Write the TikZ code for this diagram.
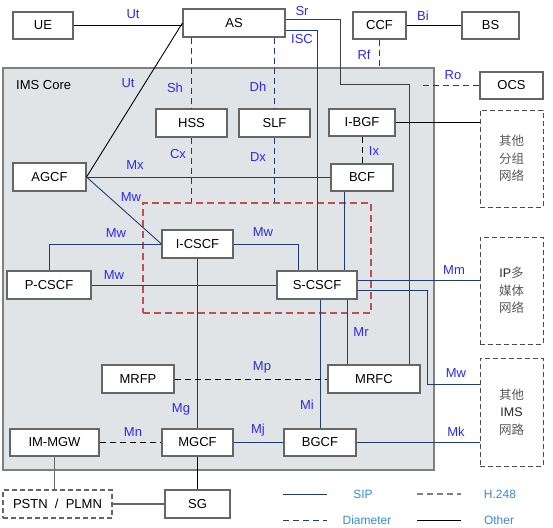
\documentclass[tikz,border=0pt]{standalone}
\usepackage{fontspec}
\setmainfont{Liberation Sans}
\newfontfamily\cjk{Noto Sans CJK SC}
\usepackage{tikz}
\definecolor{sipblue}{HTML}{1F3C7A}
\definecolor{ifblue}{HTML}{2B2BE6}
\definecolor{legblue}{HTML}{3A8AD2}
\definecolor{coregray}{HTML}{E0E4E7}
\definecolor{grpred}{HTML}{C0504D}

\begin{document}
\begin{tikzpicture}[
        x=1pt, y=-1pt,
        font=\fontsize{13}{15}\selectfont,
        box/.style={
            rectangle,
            draw=black!60,
            line width=1.1pt,
            fill=white,
            inner sep=0pt,
            minimum height=28pt
        },
        netbox/.style={
            rectangle,
            draw=black!70,
            dash pattern=on 5pt off 3pt,
            line width=1pt,
            fill=white,
            align=center,
            inner sep=0pt,
            minimum width=63pt,
            text=black!65,
            font=\cjk\fontsize{12.5}{17.5}\selectfont
        },
        sip/.style={draw=sipblue, line width=0.9pt},
        dia/.style={draw=sipblue, line width=1pt, dash pattern=on 6pt off 4pt},
        h248/.style={draw=black, line width=1pt, dash pattern=on 6pt off 4pt},
        other/.style={draw=black, line width=0.9pt},
        grayline/.style={draw=black!60, line width=1.3pt},
        iface/.style={text=ifblue, inner sep=0pt},
        legend/.style={text=legblue, inner sep=0pt, font=\fontsize{12}{14}\selectfont}
    ]
        \useasboundingbox (0,0) rectangle (553,527);
        \node[draw=black!50, line width=2pt, fill=coregray, minimum width=431pt, minimum height=402pt] (core) at (218.5,269) {};
        \node[anchor=west, inner sep=0pt] (corelbl) at (16,85) {IMS Core};
        \node[draw=grpred, line width=2pt, dash pattern=on 7pt off 4pt, minimum width=228pt, minimum height=110pt] (cscf) at (257,258) {};

        \node[box, minimum width=60pt, minimum height=27pt] (ue) at (43,25.5) {UE};
        \node[box, minimum width=102pt] (as) at (234,23) {AS};
        \node[box, minimum width=53pt, minimum height=27pt] (ccf) at (379.5,25.5) {CCF};
        \node[box, minimum width=57pt, minimum height=27pt] (bs) at (490.5,25.5) {BS};
        \node[box, minimum width=63pt, minimum height=27pt] (ocs) at (511.5,85.5) {OCS};
        \node[netbox, minimum height=97pt] (pkt) at (511.5,158.5) {其他\\分组\\网络};
        \node[netbox, minimum height=107pt] (ipmm) at (511.5,290.5) {{\normalfont\color{black!85}IP}多\\媒体\\网络};
        \node[netbox, minimum height=108pt] (oims) at (511.5,412) {其他\\{\normalfont\color{black!85}IMS}\\网路};
        \node[box, minimum width=71pt] (hss) at (191.5,123) {HSS};
        \node[box, minimum width=71pt] (slf) at (274.5,123) {SLF};
        \node[box, minimum width=66pt, minimum height=27pt] (ibgf) at (362,122.5) {I-BGF};
        \node[box, minimum width=62pt, minimum height=27pt] (bcf) at (362,177.5) {BCF};
        \node[box, minimum width=73pt] (agcf) at (49.5,177) {AGCF};
        \node[box, minimum width=71pt] (icscf) at (197.5,244) {I-CSCF};
        \node[box, minimum width=84pt] (pcscf) at (49,285) {P-CSCF};
        \node[box, minimum width=80pt] (scscf) at (317,285) {S-CSCF};
        \node[box, minimum width=72pt] (mrfp) at (138,379) {MRFP};
        \node[box, minimum width=92pt] (mrfc) at (374,379) {MRFC};
        \node[box, minimum width=89pt, minimum height=27pt] (immgw) at (54.5,442.5) {IM-MGW};
        \node[box, minimum width=71pt, minimum height=27pt] (mgcf) at (197.5,442.5) {MGCF};
        \node[box, minimum width=72pt, minimum height=27pt] (bgcf) at (320,442.5) {BGCF};
        \node[box, draw=black!60, dash pattern=on 5pt off 3pt, minimum width=109pt] (pstn) at (57.5,504) {PSTN~~/~~PLMN};
        \node[box, minimum width=65pt] (sg) at (197.5,504) {SG};
        \coordinate (ro) at (423,85.5);
        \coordinate (mwbend) at (427,384);

        \draw[other] (ue.east) -- (ue.east -| as.west);
        \draw[other] (as.west) -- (agcf.east);
        \draw[dia] (hss.north |- as.south) -- (hss.north);
        \draw[dia] (slf.north |- as.south) -- (slf.north);
        \draw[dia] (hss.south) -- (hss.south |- cscf.north);
        \draw[dia] (slf.south) -- (slf.south |- cscf.north);
        \draw[sip] ([yshift=-7pt]as.east) -| (scscf.north);
        \draw[grayline, line width=1pt, draw=black!75] ([yshift=3pt]as.east) -| (340,84) -| ([xshift=-11pt]mrfc.north east);
        \draw[other] (ccf.east) -- (bs.west);
        \draw[dia] (ccf.south) -- (ccf.south |- core.north);
        \draw[dia] (ro) -- (ocs.west);
        \draw[other] (ibgf.east) -- (ibgf.east -| pkt.west);
        \draw[h248] (ibgf.south) -- (bcf.north);
        \draw[sip] (agcf.east) -- (agcf.east -| bcf.west);
        \draw[sip] (agcf.east) -- (icscf.west);
        \draw[sip] ([xshift=-18pt]bcf.south) -- ([xshift=-18pt]bcf.south |- scscf.north);
        \draw[sip] (icscf.west) -| (pcscf.north);
        \draw[sip] (icscf.east) -| ([xshift=-19pt]scscf.north);
        \draw[sip] (pcscf.east) -- (scscf.west);
        \draw[sip] (icscf.south) -- (mgcf.north);
        \draw[sip] ([yshift=5pt]scscf.east) -- ([yshift=5pt]scscf.east -| ipmm.west);
        \draw[sip] ([yshift=-5pt]scscf.east) -| (mwbend) -- (mwbend -| oims.west);
        \draw[sip] ([xshift=30pt]scscf.south) -- ([xshift=30pt]scscf.south |- mrfc.north);
        \draw[sip] (bgcf.north |- scscf.south) -- (bgcf.north);
        \draw[h248] (mrfp.east) -- (mrfc.west);
        \draw[sip] (mgcf.east) -- (bgcf.west);
        \draw[sip] (bgcf.east) -- (bgcf.east -| oims.west);
        \draw[h248] (immgw.east) -- (mgcf.west);
        \draw[grayline] (immgw.south) -- (immgw.south |- pstn.north);
        \draw[other] (mgcf.south) -- (sg.north);
        \draw[grayline] (pstn.east) -- (sg.west);

        \node[iface] (ut1) at (133,14) {Ut};
        \node[iface] (ut2) at (128,83) {Ut};
        \node[iface] (sh) at (175,88) {Sh};
        \node[iface] (dh) at (258,87) {Dh};
        \node[iface] (cx) at (178,154) {Cx};
        \node[iface] (dx) at (258,157) {Dx};
        \node[iface] (sr) at (302,11) {Sr};
        \node[iface] (isc) at (302,39) {ISC};
        \node[iface] (bi) at (423,16) {Bi};
        \node[iface] (rf) at (364,55) {Rf};
        \node[iface] (rolbl) at (453,75) {Ro};
        \node[iface] (ix) at (374,151) {Ix};
        \node[iface] (mx) at (135,165) {Mx};
        \node[iface] (mw1) at (131,197) {Mw};
        \node[iface] (mw2) at (116,233) {Mw};
        \node[iface] (mw3) at (263,232) {Mw};
        \node[iface] (mw4) at (114,275) {Mw};
        \node[iface] (mm) at (454,270) {Mm};
        \node[iface] (mr) at (361,332) {Mr};
        \node[iface] (mw5) at (456,373) {Mw};
        \node[iface] (mp) at (262,367) {Mp};
        \node[iface] (mg) at (181,409) {Mg};
        \node[iface] (mi) at (307,405) {Mi};
        \node[iface] (mn) at (133,432) {Mn};
        \node[iface] (mj) at (258,430) {Mj};
        \node[iface] (mk) at (456,432) {Mk};

        \coordinate (sipa) at (283,494);
        \coordinate (sipb) at (327,494);
        \coordinate (h248a) at (417,494);
        \coordinate (h248b) at (461,494);
        \coordinate (diaa) at (283,520);
        \coordinate (diab) at (327,520);
        \coordinate (otha) at (417,520);
        \coordinate (othb) at (461,520);
        \draw[sip] (sipa) -- (sipb);
        \draw[h248, draw=black!50, line width=2pt] (h248a) -- (h248b);
        \draw[dia] (diaa) -- (diab);
        \draw[other] (otha) -- (othb);
        \node[legend] (siplbl) at (363,494) {SIP};
        \node[legend] (h248lbl) at (500,494) {H.248};
        \node[legend] (dialbl) at (367,520) {Diameter};
        \node[legend] (othlbl) at (499,520) {Other};
    \end{tikzpicture}
\end{document}
